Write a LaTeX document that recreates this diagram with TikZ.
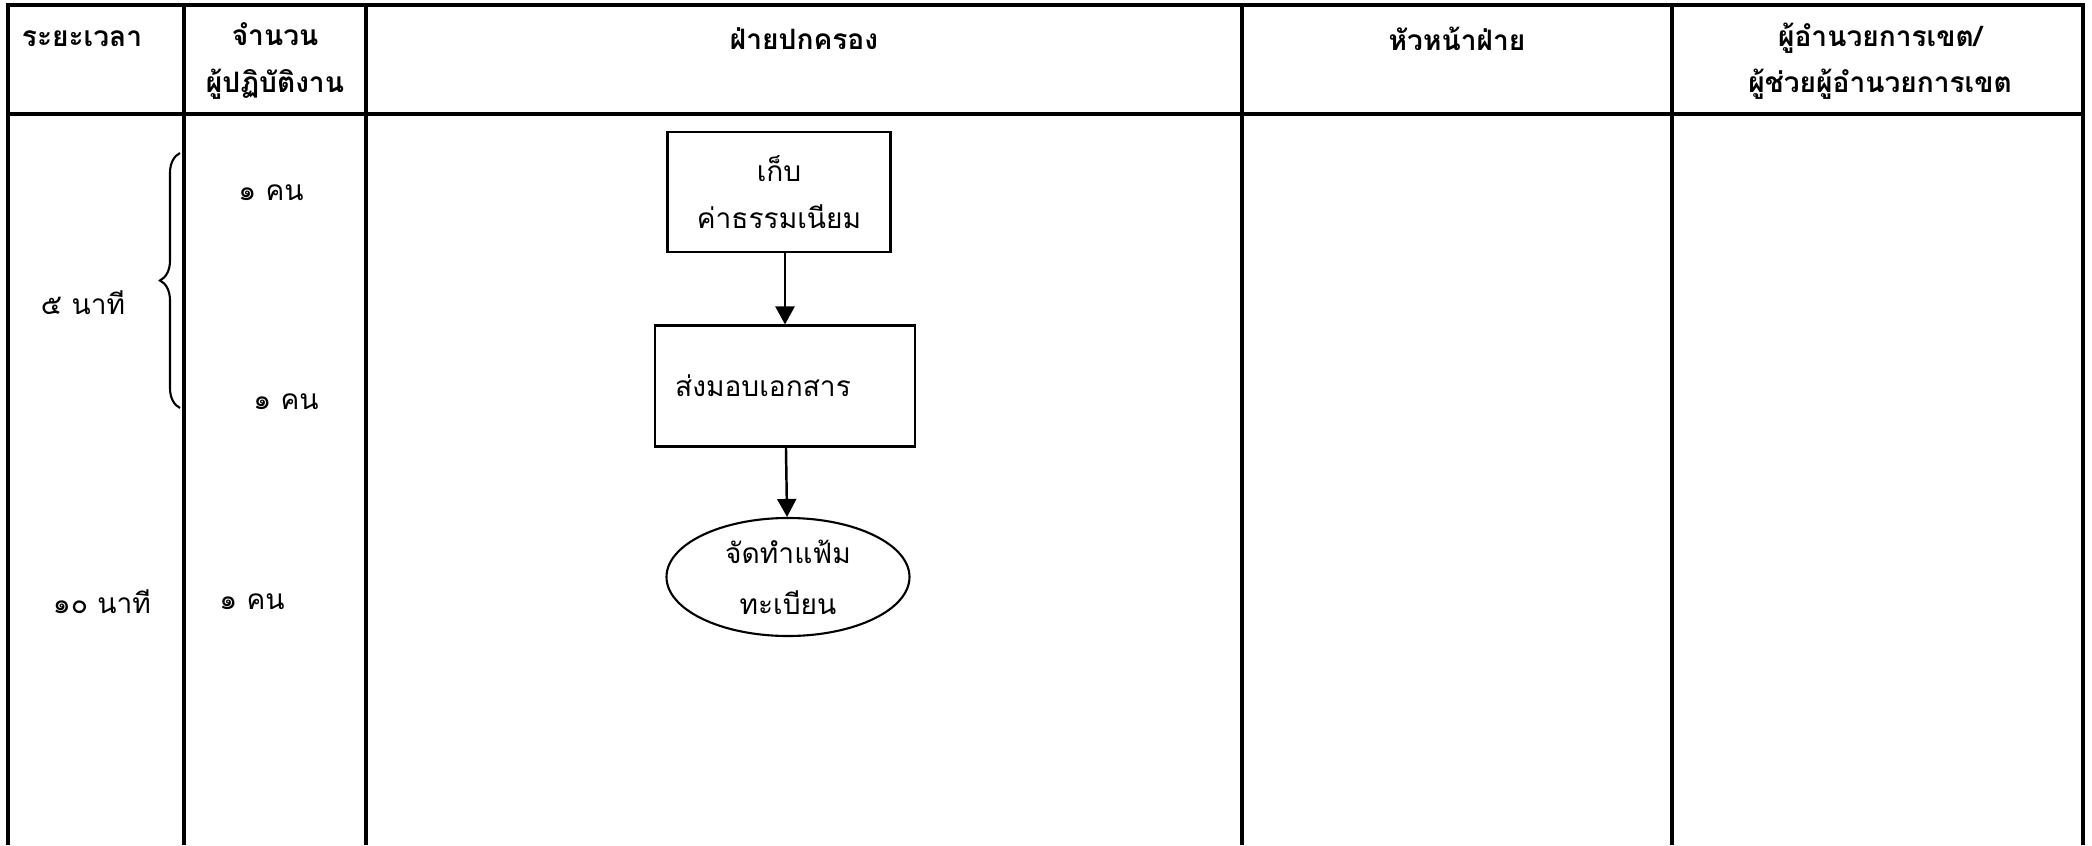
\documentclass[tikz,border=0pt]{standalone}
\usepackage{fontspec}
\newfontfamily\thaifont[Script=Thai]{Loma}
\usetikzlibrary{arrows.meta,shapes.geometric,decorations.pathreplacing}

\begin{document}
\begin{tikzpicture}[
    grid_line/.style={black,line width=0.9pt},
    header_text/.style={font=\thaifont\bfseries\fontsize{8}{13.2}\selectfont,align=center,inner sep=0pt},
    body_text/.style={font=\thaifont\fontsize{8}{13.4}\selectfont,align=center,inner sep=0pt},
    process_box/.style={rectangle,draw=black,line width=0.6pt,inner sep=0pt,font=\thaifont\fontsize{8}{13.4}\selectfont,align=center},
    end_ellipse/.style={ellipse,draw=black,line width=0.6pt,inner sep=0pt,minimum width=2.43cm,minimum height=1.18cm,font=\thaifont\fontsize{8}{14.5}\selectfont,align=center},
    flow_arrow/.style={black,line width=0.7pt,-{Triangle[length=0.18cm,width=0.19cm]}},
    time_brace/.style={black,line width=0.6pt,decorate,decoration={brace,amplitude=0.2cm}}]
  \useasboundingbox (0,0) rectangle (20.92,8.45);
  % table frame
  \draw[grid_line] (0.08,0) -- (0.08,8.40) -- (20.83,8.40) -- (20.83,0);
  \draw[grid_line] (0.08,7.31) -- (20.83,7.31);
  \foreach \colx in {1.84,3.66,12.42,16.72}
    \draw[grid_line] (\colx,0) -- (\colx,8.40);
  % header
\node[header_text] (h_time) at (0.82,8.06) {ระยะเวลา};
\node[header_text] (h_staff) at (2.75,7.84) {จำนวน\\ผู้ปฏิบัติงาน};
\node[header_text] (h_admin) at (8.04,8.06) {ฝ่ายปกครอง};
\node[header_text] (h_head) at (14.57,8.06) {หัวหน้าฝ่าย};
\node[header_text] (h_director) at (18.80,7.84) {ผู้อำนวยการเขต/\\ผู้ช่วยผู้อำนวยการเขต};
  % time and staff
\node[body_text] (t_five) at (0.83,5.42) {๕ นาที};
\node[body_text] (t_ten) at (1.02,2.43) {๑๐ นาที};
\node[body_text] (s_one) at (2.71,6.52) {๑ คน};
\node[body_text] (s_two) at (2.86,4.43) {๑ คน};
\node[body_text] (s_three) at (2.52,2.43) {๑ คน};
  \draw[time_brace] (1.80,4.37) -- (1.80,6.92);
  % flow
\node[process_box,minimum width=2.23cm,minimum height=1.20cm] (fee) at (7.79,6.53) {เก็บ\\ค่าธรรมเนียม};
\node[process_box,minimum width=2.60cm,minimum height=1.21cm] (deliver) at (7.85,4.59) {ส่งมอบเอกสาร\hspace*{0.44cm}};
\node[end_ellipse] (file) at (7.88,2.68) {จัดทำแฟ้ม\\ทะเบียน};
  \draw[flow_arrow] (fee.south -| deliver.north) -- (deliver.north);
  \draw[flow_arrow] (deliver) -- (file);
\end{tikzpicture}
\end{document}
